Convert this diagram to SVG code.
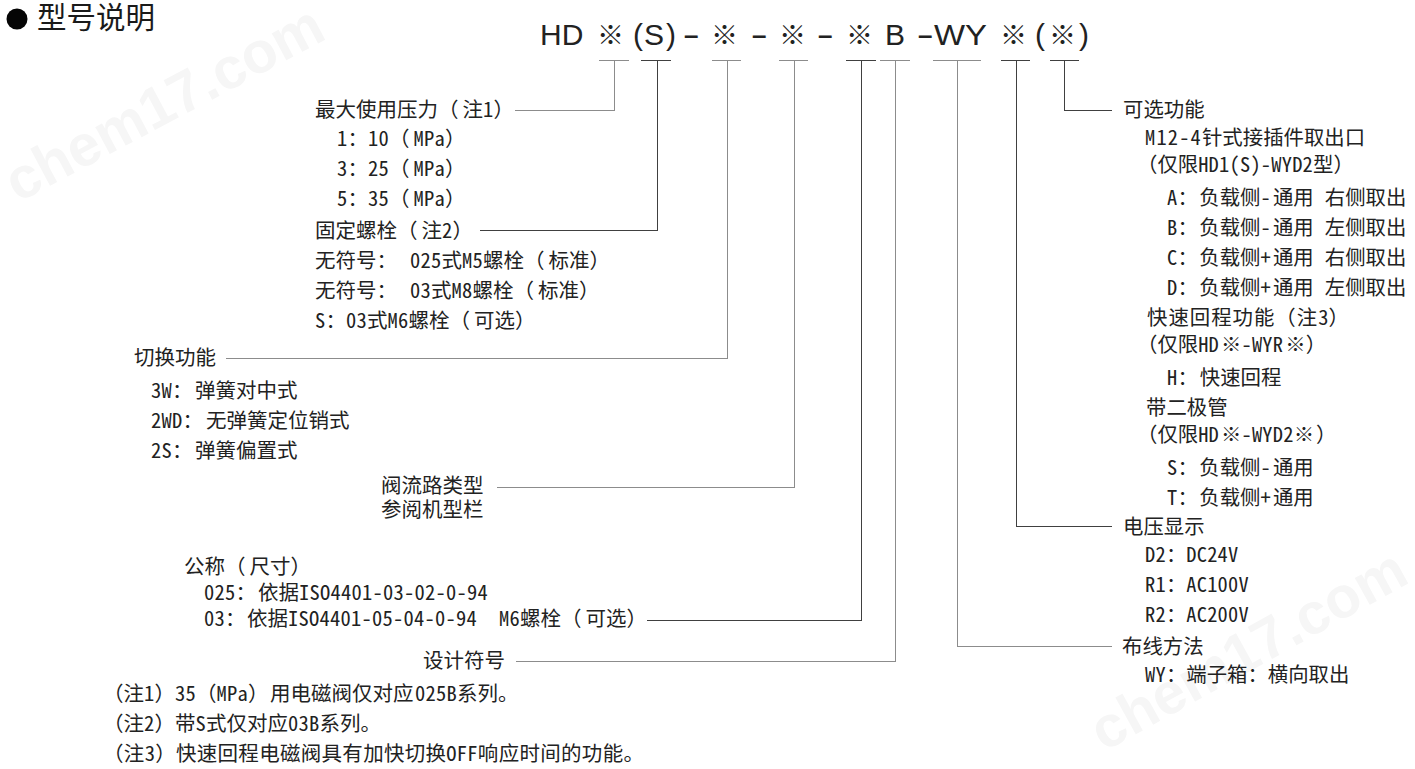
<svg xmlns="http://www.w3.org/2000/svg" width="1415" height="769" viewBox="0 0 1415 769">
<style>
text{font-family:"Noto Sans CJK SC","Noto Sans",sans-serif;font-size:20.5px;fill:#222;white-space:pre}
.l{font-feature-settings:"hwid";letter-spacing:.25px}
.f{font-family:"Noto Sans CJK TC","Noto Sans CJK SC",sans-serif}
.o{font-family:"Noto Sans CJK TC","Noto Sans CJK SC",sans-serif;letter-spacing:4px}
.r{font-size:20.4px}
.h{font-size:29.5px;fill:#1a1a1a}
.m{font-family:"Liberation Sans",sans-serif;font-size:30px;fill:#222}
.d{font-family:"Liberation Sans",sans-serif;font-size:26px;font-weight:bold;fill:#222}
.x{font-family:"Noto Sans CJK SC",sans-serif;font-size:27px;fill:#222}
.w{font-family:"Liberation Sans",sans-serif;font-size:58px;font-weight:bold;fill:#f6f6f6}
.g,.k{fill:none;stroke-width:1;shape-rendering:crispEdges}
.g{stroke:#8c8c8c}
.k{stroke:#404040}
</style>
<rect width="1415" height="769" fill="#fff"/>
<g id="watermarks">
<text class="w" transform="translate(18 203) rotate(-28)">chem17.com</text>
<text class="w" transform="translate(1104 752) rotate(-29)">chem17.com</text>
</g>
<g id="title">
<circle cx="17" cy="19" r="10.5" fill="#050505"/>
<text class="h" x="37" y="28">型号说明</text>
</g>
<g id="model-code">
<text class="m" x="540" y="45">HD</text>
<text class="x" x="597" y="45">※</text>
<text class="m" x="633" y="45">(</text>
<text class="m" x="644" y="45">S</text>
<text class="m" x="666" y="45">)</text>
<text class="d" x="684" y="44">–</text>
<text class="x" x="711" y="45">※</text>
<text class="d" x="752" y="44">–</text>
<text class="x" x="779" y="45">※</text>
<text class="d" x="818" y="44">–</text>
<text class="x" x="846" y="45">※</text>
<text class="m" x="885" y="45">B</text>
<text class="d" x="918" y="44">–</text>
<text class="m" x="934" y="45" textLength="53" lengthAdjust="spacingAndGlyphs">WY</text>
<text class="x" x="1000" y="45">※</text>
<text class="m" x="1035" y="45">(</text>
<text class="x" x="1049" y="45">※</text>
<text class="m" x="1079" y="45">)</text>
</g>
<g id="connectors">
<path class="g" d="M599 60.5H629M515 110.5H614.5V60"/>
<path class="k" d="M641 60.5H671M480 230.5H657.5V60"/>
<path class="g" d="M712 60.5H741M226 358.5H727.5V60"/>
<path class="g" d="M779 60.5H808M497 487.5H794.5V60"/>
<path class="k" d="M846 60.5H876M647 620.5H861.5V60"/>
<path class="g" d="M880 60.5H910M516 661.5H895.5V60"/>
<path class="g" d="M933 60.5H981M1112 646.5H957.5V60"/>
<path class="k" d="M1001 60.5H1030M1112 526.5H1016.5V60"/>
<path class="k" d="M1050 60.5H1079M1112 110.5H1064.5V60"/>
</g>
<g id="pressure">
<text x="315" y="117">最大使用压力<tspan class="o">（</tspan>注<tspan class="l">1</tspan><tspan class="f">）</tspan></text>
<text x="337" y="146"><tspan class="l">1</tspan>：<tspan class="l">10</tspan><tspan class="o">（</tspan><tspan class="l">MPa</tspan><tspan class="f">）</tspan></text>
<text x="337" y="176"><tspan class="l">3</tspan>：<tspan class="l">25</tspan><tspan class="o">（</tspan><tspan class="l">MPa</tspan><tspan class="f">）</tspan></text>
<text x="337" y="206"><tspan class="l">5</tspan>：<tspan class="l">35</tspan><tspan class="o">（</tspan><tspan class="l">MPa</tspan><tspan class="f">）</tspan></text>
</g>
<g id="bolt">
<text x="315" y="238">固定螺栓<tspan class="o">（</tspan>注<tspan class="l">2</tspan><tspan class="f">）</tspan></text>
<text x="315" y="268">无符号：<tspan class="l" dx="13">025</tspan>式<tspan class="l">M5</tspan>螺栓<tspan class="o">（</tspan>标准<tspan class="f">）</tspan></text>
<text x="315" y="298">无符号：<tspan class="l" dx="13">03</tspan>式<tspan class="l">M8</tspan>螺栓<tspan class="o">（</tspan>标准<tspan class="f">）</tspan></text>
<text x="315" y="328"><tspan class="l">S</tspan>：<tspan class="l">03</tspan>式<tspan class="l">M6</tspan>螺栓<tspan class="o">（</tspan>可选<tspan class="f">）</tspan></text>
</g>
<g id="switching">
<text x="134" y="365">切换功能</text>
<text x="151" y="398"><tspan class="l">3W</tspan>：<tspan dx="2.5">弹簧对中式</tspan></text>
<text x="151" y="428"><tspan class="l">2WD</tspan>：<tspan dx="3">无弹簧定位销式</tspan></text>
<text x="151" y="458"><tspan class="l">2S</tspan>：<tspan dx="2.5">弹簧偏置式</tspan></text>
</g>
<g id="flow-path">
<text x="381" y="493">阀流路类型</text>
<text x="381" y="517">参阅机型栏</text>
</g>
<g id="nominal">
<text x="184" y="574">公称<tspan class="o">（</tspan>尺寸<tspan class="f">）</tspan></text>
<text x="204" y="600"><tspan class="l">025</tspan>：<tspan dx="2">依据</tspan><tspan class="l">ISO4401-03-02-0-94</tspan></text>
<text x="204" y="626"><tspan class="l">03</tspan>：<tspan dx="1.5">依据</tspan><tspan class="l">ISO4401-05-04-0-94</tspan><tspan class="l" dx="22">M6</tspan>螺栓<tspan class="o">（</tspan>可选<tspan class="f">）</tspan></text>
</g>
<g id="design">
<text x="423" y="668">设计符号</text>
</g>
<g id="notes">
<text x="103" y="701"><tspan class="f">（</tspan>注<tspan class="l">1</tspan><tspan class="f">）</tspan><tspan class="l">35</tspan><tspan class="f">（</tspan><tspan class="l">MPa</tspan><tspan class="f">）</tspan><tspan dx="1.5">用电磁阀仅对应</tspan><tspan class="l" dx="1.5">025B</tspan>系列。</text>
<text x="103" y="731"><tspan class="f">（</tspan>注<tspan class="l">2</tspan><tspan class="f">）</tspan>带<tspan class="l">S</tspan>式仅对应<tspan class="l">03B</tspan>系列。</text>
<text x="103" y="761" letter-spacing=".3"><tspan class="f">（</tspan>注<tspan class="l">3</tspan><tspan class="f">）</tspan>快速回程电磁阀具有加快切换<tspan class="l">OFF</tspan>响应时间的功能。</text>
</g>
<g id="options">
<text class="r" x="1123" y="117">可选功能</text>
<text class="r" x="1145" y="145"><tspan class="l" style="letter-spacing:1.2px">M12-4</tspan>针式接插件取出口</text>
<text class="r" x="1137" y="172"><tspan class="f">（</tspan>仅限<tspan class="l">HD1(S)-WYD2</tspan>型<tspan class="f">）</tspan></text>
<text class="r" x="1167" y="205"><tspan class="l">A</tspan>：<tspan dx="1.5">负载侧</tspan><tspan class="l">-</tspan><tspan dx="2">通用</tspan><tspan dx="11">右侧取出</tspan></text>
<text class="r" x="1167" y="235"><tspan class="l">B</tspan>：<tspan dx="1.5">负载侧</tspan><tspan class="l">-</tspan><tspan dx="2">通用</tspan><tspan dx="11">左侧取出</tspan></text>
<text class="r" x="1167" y="265"><tspan class="l">C</tspan>：<tspan dx="1.5">负载侧</tspan><tspan class="l">+</tspan><tspan dx="2">通用</tspan><tspan dx="11">右侧取出</tspan></text>
<text class="r" x="1167" y="295"><tspan class="l">D</tspan>：<tspan dx="1.5">负载侧</tspan><tspan class="l">+</tspan><tspan dx="2">通用</tspan><tspan dx="11">左侧取出</tspan></text>
<text class="r" x="1147" y="325" letter-spacing="1">快速回程功能<tspan class="f">（</tspan>注<tspan class="l">3</tspan><tspan class="f">）</tspan></text>
<text class="r" x="1137" y="352"><tspan class="f">（</tspan>仅限<tspan class="l">HD</tspan><tspan dx="2">※</tspan><tspan class="l">-WYR</tspan><tspan dx="2">※</tspan><tspan class="f">）</tspan></text>
<text class="r" x="1167" y="385"><tspan class="l">H</tspan>：<tspan dx="2">快速回程</tspan></text>
<text class="r" x="1146" y="415">带二极管</text>
<text class="r" x="1137" y="442"><tspan class="f">（</tspan>仅限<tspan class="l">HD</tspan><tspan dx="2">※</tspan><tspan class="l">-WYD2</tspan>※<tspan class="f" dx="2">）</tspan></text>
<text class="r" x="1167" y="475"><tspan class="l">S</tspan>：<tspan dx="1.5">负载侧</tspan><tspan class="l">-</tspan><tspan dx="2">通用</tspan></text>
<text class="r" x="1167" y="505"><tspan class="l">T</tspan>：<tspan dx="1.5">负载侧</tspan><tspan class="l">+</tspan><tspan dx="2">通用</tspan></text>
</g>
<g id="voltage">
<text class="r" x="1123" y="534">电压显示</text>
<text class="r" x="1145" y="562"><tspan class="l">D2</tspan>：<tspan class="l">DC24V</tspan></text>
<text class="r" x="1145" y="592"><tspan class="l">R1</tspan>：<tspan class="l">AC100V</tspan></text>
<text class="r" x="1145" y="622"><tspan class="l">R2</tspan>：<tspan class="l">AC200V</tspan></text>
</g>
<g id="wiring">
<text class="r" x="1122" y="654">布线方法</text>
<text class="r" x="1145" y="682"><tspan class="l">WY</tspan>：端子箱：横向取出</text>
</g>
</svg>
